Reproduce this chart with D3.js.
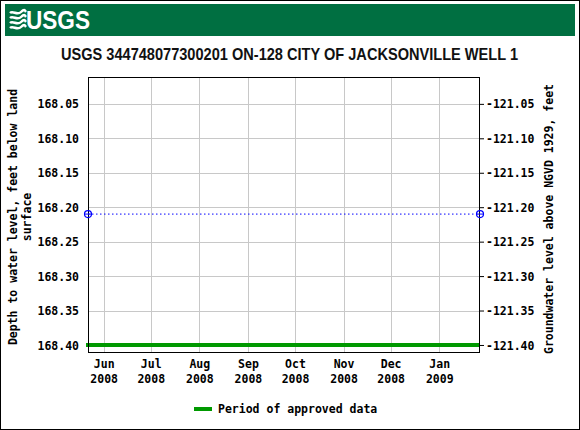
<!DOCTYPE html>
<html><head><meta charset="utf-8">
<script src="https://cdn.jsdelivr.net/npm/d3@7"></script>
<style>body{margin:0;background:#fff}svg{display:block}</style>
</head><body>
<script>
const pointDates = ["2008-05-22", "2009-01-27"];
const pointValues = [168.21, 168.21];
const approvedPeriod = ["2008-05-22", "2009-01-27"];
const yTicks = [168.05, 168.10, 168.15, 168.20, 168.25, 168.30, 168.35, 168.40];
const monthTicks = ["2008-06-01","2008-07-01","2008-08-01","2008-09-01","2008-10-01","2008-11-01","2008-12-01","2009-01-01"];
const datumOffset = 47.0; // elevation = 47.0 - depth
const title = "USGS 344748077300201 ON-128 CITY OF JACKSONVILLE WELL 1";

const W = 580, H = 430;
const m = {left: 88, right: 480, top: 77, bottom: 352};
const parse = d3.utcParse("%Y-%m-%d");
const svg = d3.select("body").append("svg").attr("width", W).attr("height", H);
svg.append("rect").attr("x",0.5).attr("y",0.5).attr("width",W-1).attr("height",H-1).attr("fill","#fff").attr("stroke","#000");

// header
svg.append("rect").attr("x",5).attr("y",4).attr("width",570).attr("height",32).attr("fill","#006f41");
const logo = svg.append("g").attr("fill","none").attr("stroke","#fff").attr("stroke-width",2.4);
[0,5,10,15].forEach(dy=>{
  logo.append("path").attr("d",`M10,${13+dy} C13,${10+dy} 17,${16+dy} 21,${12+dy} S25,${11+dy} 26,${12+dy}`);
});
svg.append("text").attr("x",26).attr("y",29).attr("font-family","Liberation Sans, Arial, sans-serif")
  .attr("font-weight","bold").attr("font-size",25).attr("fill","#fff")
  .attr("textLength",64).attr("lengthAdjust","spacingAndGlyphs").text("USGS");

svg.append("text").attr("x",289.5).attr("y",60).attr("text-anchor","middle")
  .attr("font-family","Liberation Sans, Arial, sans-serif").attr("font-weight","bold")
  .attr("font-size",16.5).attr("textLength",457).attr("lengthAdjust","spacingAndGlyphs")
  .attr("fill","#111").text(title);

const x = d3.scaleUtc().domain([parse(pointDates[0]), parse(pointDates[1])]).range([m.left, m.right]);
const y = d3.scaleLinear().domain([168.011, 168.4102]).range([m.top, m.bottom]);

const mono = "DejaVu Sans Mono, monospace";
// gridlines
const g = svg.append("g");
g.selectAll(".hg").data(yTicks).join("line")
  .attr("x1",m.left).attr("x2",m.right).attr("y1",d=>Math.round(y(d))+0.5).attr("y2",d=>Math.round(y(d))+0.5)
  .attr("stroke","#c8c8c8");
g.selectAll(".vg").data(monthTicks).join("line")
  .attr("y1",m.top).attr("y2",m.bottom).attr("x1",d=>Math.round(x(parse(d)))+0.5).attr("x2",d=>Math.round(x(parse(d)))+0.5)
  .attr("stroke","#c8c8c8");

// approved period bar
svg.append("line").attr("x1",x(parse(approvedPeriod[0]))-2).attr("x2",x(parse(approvedPeriod[1])))
  .attr("y1",y(168.40)).attr("y2",y(168.40)).attr("stroke","#009900").attr("stroke-width",4);

// axes
const leftAxis = d3.axisLeft(y).tickValues(yTicks).tickFormat(d3.format(".2f")).tickSize(0).tickPadding(9);
const la = svg.append("g").attr("transform",`translate(${m.left},0)`).call(leftAxis);
const rightAxis = d3.axisRight(y).tickValues(yTicks).tickFormat(d=>d3.format(".2f")(datumOffset - d).replace("−","-")).tickSize(4).tickPadding(2);
const ra = svg.append("g").attr("transform",`translate(${m.right},0)`).call(rightAxis);
const xAxis = d3.axisBottom(x).tickValues(monthTicks.map(parse)).tickSize(0).tickPadding(8).tickFormat(()=> "");
const xa = svg.append("g").attr("transform",`translate(0,${m.bottom})`).call(xAxis);
[la,ra,xa].forEach(a=>{a.select(".domain").remove();
  a.selectAll("text").attr("font-family",mono).attr("font-weight","bold").attr("font-size",11.5).attr("fill","#000");});
la.selectAll("text").attr("dy","0.35em");
ra.selectAll("text").attr("dy","0.35em");
ra.selectAll("line").attr("stroke","#000");
const fmtM = d3.utcFormat("%b"), fmtY = d3.utcFormat("%Y");
xa.selectAll(".tick text").each(function(d){
  const t = d3.select(this).text(null).attr("y",8);
  t.append("tspan").attr("x",0).attr("dy","0.71em").text(fmtM(d));
  t.append("tspan").attr("x",0).attr("dy","1.25em").text(fmtY(d));
});

// border
svg.append("rect").attr("x",m.left+0.5).attr("y",m.top+0.5).attr("width",m.right-m.left-1).attr("height",m.bottom-m.top)
  .attr("fill","none").attr("stroke","#000");

// data
const pts = pointDates.map((d,i)=>({date:parse(d), v:pointValues[i]}));
svg.append("path").datum(pts).attr("d",d3.line().x(d=>x(d.date)).y(d=>y(d.v)))
  .attr("fill","none").attr("stroke","#0000ff").attr("stroke-dasharray","1.5,2.5");
svg.selectAll(".pt").data(pts).join("circle").attr("cx",d=>x(d.date)).attr("cy",d=>y(d.v)).attr("r",3.5)
  .attr("fill","none").attr("stroke","#0000ff").attr("stroke-width",1.2);
svg.selectAll(".ptl").data(pts).join("line").attr("x1",d=>x(d.date)-3.5).attr("x2",d=>x(d.date)+3.5)
  .attr("y1",d=>y(d.v)).attr("y2",d=>y(d.v)).attr("stroke","#0000ff");

// axis titles
const lt = svg.append("text").attr("transform","translate(17,217) rotate(-90)").attr("text-anchor","middle")
  .attr("font-family",mono).attr("font-weight","bold").attr("font-size",11.5);
lt.append("tspan").attr("x",0).attr("dy",0).text("Depth to water level, feet below land");
lt.append("tspan").attr("x",0).attr("dy","1.2em").text("surface");
svg.append("text").attr("transform","translate(553,219) rotate(-90)").attr("text-anchor","middle")
  .attr("font-family",mono).attr("font-weight","bold").attr("font-size",11.5)
  .text("Groundwater level above NGVD 1929, feet");

// legend
svg.append("line").attr("x1",194).attr("x2",212).attr("y1",409).attr("y2",409).attr("stroke","#009900").attr("stroke-width",4);
svg.append("text").attr("x",218).attr("y",413).attr("font-family",mono).attr("font-weight","bold").attr("font-size",11.5)
  .text("Period of approved data");
</script>
</body></html>
